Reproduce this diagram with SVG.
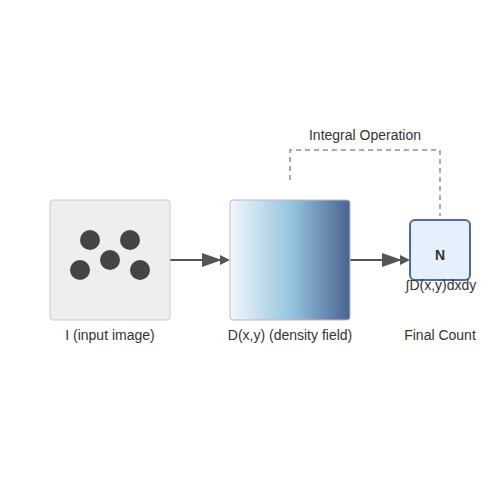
<svg xmlns="http://www.w3.org/2000/svg" width="500" height="500" viewBox="0 0 500 500">
<defs>
<linearGradient id="dens" x1="0" y1="0" x2="1" y2="0">
<stop offset="0" stop-color="#f2f7fc"/>
<stop offset="0.5" stop-color="#97c6df"/>
<stop offset="1" stop-color="#4a6490"/>
</linearGradient>
<style>
text{font-family:"Liberation Sans",Arial,sans-serif;fill:#333;font-size:14px;text-anchor:middle}
.conn{stroke:#555;stroke-width:2;fill:none}
.head{fill:#555}
.dash{stroke:#aaa;stroke-width:2;fill:none;stroke-dasharray:5,4}
.dot{fill:#444}
</style>
</defs>
<rect width="500" height="500" fill="#fff"/>
<g id="connectors">
<line class="conn" x1="170" y1="260" x2="222" y2="260"/>
<polygon class="head" points="202,253 222,260 202,267"/>
<polygon class="head" points="220,255 230,260 220,265"/>
<line class="conn" x1="350" y1="260" x2="402" y2="260"/>
<polygon class="head" points="382,253 402,260 382,267"/>
<polygon class="head" points="400,255 410,260 400,265"/>
<polyline class="dash" points="290,180 290,150 440,150 440,216"/>
<text x="365" y="140">Integral Operation</text>
</g>
<g id="input">
<rect x="50" y="200" width="120" height="120" rx="3" fill="#eeeeee" stroke="#cccccc" stroke-width="1"/>
<circle class="dot" cx="90" cy="240" r="10"/>
<circle class="dot" cx="130" cy="240" r="10"/>
<circle class="dot" cx="110" cy="260" r="10"/>
<circle class="dot" cx="80" cy="270" r="10"/>
<circle class="dot" cx="140" cy="270" r="10"/>
<text x="110" y="340">I (input image)</text>
</g>
<g id="density">
<rect x="230" y="200" width="120" height="120" rx="3" fill="url(#dens)" stroke="#bbbbbb" stroke-width="1"/>
<text x="290" y="340">D(x,y) (density field)</text>
</g>
<g id="count">
<rect x="410" y="220" width="60" height="60" rx="5" fill="#e6f0fd" stroke="#4a6aaa" stroke-width="2"/>
<text x="440" y="260" font-weight="bold">N</text>
<text x="441" y="290">∫D(x,y)dxdy</text>
<text x="440" y="340">Final Count</text>
</g>
</svg>
